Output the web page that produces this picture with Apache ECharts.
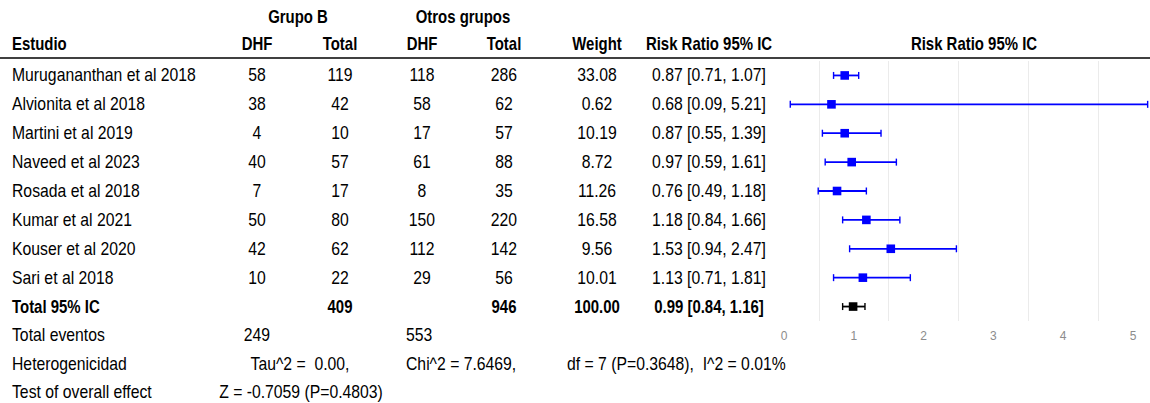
<!DOCTYPE html>
<html>
<head>
<meta charset="utf-8">
<script src="https://cdn.jsdelivr.net/npm/echarts@6/dist/echarts.min.js"></script>
<style>
  html, body { margin: 0; padding: 0; background: #ffffff; }
  #chart { width: 1150px; height: 403px; }
</style>
</head>
<body>
<div id="chart"></div>
<script>
// ---- Study data ----
const studies = [
  'Murugananthan et al 2018',
  'Alvionita et al 2018',
  'Martini et al 2019',
  'Naveed et al 2023',
  'Rosada et al 2018',
  'Kumar et al 2021',
  'Kouser et al 2020',
  'Sari et al 2018'
];
const groupBEvents = [58, 38, 4, 40, 7, 50, 42, 10];
const groupBTotal = [119, 42, 10, 57, 17, 80, 62, 22];
const otherEvents = [118, 58, 17, 61, 8, 150, 112, 29];
const otherTotal = [286, 62, 57, 88, 35, 220, 142, 56];
const weights = [33.08, 0.62, 10.19, 8.72, 11.26, 16.58, 9.56, 10.01];
const riskRatio = [0.87, 0.68, 0.87, 0.97, 0.76, 1.18, 1.53, 1.13];
const ciLower = [0.71, 0.09, 0.55, 0.59, 0.49, 0.84, 0.94, 0.71];
const ciUpper = [1.07, 5.21, 1.39, 1.61, 1.18, 1.66, 2.47, 1.81];

// ---- Pooled result ----
const pooledLabel = 'Total 95% IC';
const pooledGroupBTotal = 409;
const pooledOtherTotal = 946;
const pooledWeight = 100.00;
const pooledRR = 0.99;
const pooledLower = 0.84;
const pooledUpper = 1.16;
const eventsGroupB = 249;
const eventsOther = 553;

// ---- Summary lines ----
const heteroTau = 'Tau^2 =  0.00,';
const heteroChi = 'Chi^2 = 7.6469,';
const heteroDf = 'df = 7 (P=0.3648),  I^2 = 0.01%';
const overallZ = 'Z = -0.7059 (P=0.4803)';

// ---- Axis ticks ----
const xTickMin = 0;
const xTickMax = 5;

const FONT_FAMILY = '"Liberation Sans", Arial, "DejaVu Sans", sans-serif';
const FS = 18;
const fontReg = FS + 'px ' + FONT_FAMILY;
const fontBold = 'bold ' + FS + 'px ' + FONT_FAMILY;
// horizontal squeeze giving a narrow face
const SQUEEZE_REG = 0.875;
const SQUEEZE_BOLD = 0.83;

const rowNames = studies.concat([pooledLabel]);
const forestData = riskRatio.map((v, i) => [i, v, ciLower[i], ciUpper[i], 0])
  .concat([[studies.length, pooledRR, pooledLower, pooledUpper, 1]]);

const chart = echarts.init(document.getElementById('chart'), null, { renderer: 'svg' });

chart.setOption({
  animation: false,
  backgroundColor: '#ffffff',
  grid: { left: 784, right: 17, top: 61, height: 260, containLabel: false },
  xAxis: {
    type: 'value',
    min: xTickMin,
    max: xTickMax,
    interval: 0.5,
    axisLine: { show: false },
    axisTick: { show: false },
    axisLabel: {
      formatter: v => (Number.isInteger(v) ? String(v) : ''),
      color: '#8c8c8c',
      fontSize: 12,
      fontFamily: '"Liberation Sans", Arial, sans-serif',
      margin: 9
    },
    splitLine: {
      show: true,
      showMinLine: true,
      showMaxLine: true,
      lineStyle: { color: ['rgba(0,0,0,0)', '#ebebeb'], width: 1 }
    }
  },
  yAxis: {
    type: 'category',
    data: rowNames,
    inverse: true,
    show: false
  },
  series: [{
    type: 'custom',
    clip: false,
    data: forestData,
    encode: { x: [1, 2, 3], y: 0 },
    renderItem: function (params, api) {
      const idx = api.value(0);
      const mid = api.coord([api.value(1), idx]);
      const lo = api.coord([api.value(2), idx]);
      const hi = api.coord([api.value(3), idx]);
      const color = api.value(4) ? '#000000' : '#0000ff';
      const cap = 3.5;
      const half = 4.3;
      const y = mid[1];
      return {
        type: 'group',
        children: [
          { type: 'line', shape: { x1: lo[0], y1: y, x2: hi[0], y2: y }, style: { stroke: color, lineWidth: 1.8 } },
          { type: 'line', shape: { x1: lo[0], y1: y - cap, x2: lo[0], y2: y + cap }, style: { stroke: color, lineWidth: 1.4 } },
          { type: 'line', shape: { x1: hi[0], y1: y - cap, x2: hi[0], y2: y + cap }, style: { stroke: color, lineWidth: 1.4 } },
          { type: 'rect', shape: { x: mid[0] - half, y: y - half, width: half * 2, height: half * 2 }, style: { fill: color } }
        ]
      };
    }
  }]
});

// ---- Table text, aligned to the plot rows ----
const rowY = i => chart.convertToPixel({ yAxisIndex: 0 }, rowNames[i]);
const band = rowY(1) - rowY(0);
const lastY = rowY(rowNames.length - 1);

const col = {
  name: 12, bEv: 257, bTot: 340, oEv: 422, oTot: 504, weight: 597, rr: 709, plot: 974
};

function txt(text, x, y, align, bold) {
  return {
    type: 'text',
    silent: true,
    x: x,
    y: y,
    scaleX: bold ? SQUEEZE_BOLD : SQUEEZE_REG,
    style: {
      text: String(text),
      x: 0,
      y: 0,
      font: bold ? fontBold : fontReg,
      fill: '#000000',
      align: align,
      textAlign: align,
      verticalAlign: 'middle',
      textVerticalAlign: 'middle'
    }
  };
}

const fmtCI = (r, l, u) => r.toFixed(2) + ' [' + l.toFixed(2) + ', ' + u.toFixed(2) + ']';

const g = [];
// header rows
g.push(txt('Grupo B', 298, 17, 'center', true));
g.push(txt('Otros grupos', 463, 17, 'center', true));
const hy = 44;
g.push(txt('Estudio', col.name, hy, 'left', true));
g.push(txt('DHF', col.bEv, hy, 'center', true));
g.push(txt('Total', col.bTot, hy, 'center', true));
g.push(txt('DHF', col.oEv, hy, 'center', true));
g.push(txt('Total', col.oTot, hy, 'center', true));
g.push(txt('Weight', col.weight, hy, 'center', true));
g.push(txt('Risk Ratio 95% IC', col.rr, hy, 'center', true));
g.push(txt('Risk Ratio 95% IC', col.plot, hy, 'center', true));
g.push({
  type: 'line', silent: true,
  shape: { x1: 0, y1: 58, x2: 1150, y2: 58 },
  style: { stroke: '#000000', lineWidth: 1.6 }
});

// study rows
studies.forEach((s, i) => {
  const y = rowY(i);
  g.push(txt(s, col.name, y, 'left', false));
  g.push(txt(groupBEvents[i], col.bEv, y, 'center', false));
  g.push(txt(groupBTotal[i], col.bTot, y, 'center', false));
  g.push(txt(otherEvents[i], col.oEv, y, 'center', false));
  g.push(txt(otherTotal[i], col.oTot, y, 'center', false));
  g.push(txt(weights[i].toFixed(2), col.weight, y, 'center', false));
  g.push(txt(fmtCI(riskRatio[i], ciLower[i], ciUpper[i]), col.rr, y, 'center', false));
});

// pooled row
g.push(txt(pooledLabel, col.name, lastY, 'left', true));
g.push(txt(pooledGroupBTotal, col.bTot, lastY, 'center', true));
g.push(txt(pooledOtherTotal, col.oTot, lastY, 'center', true));
g.push(txt(pooledWeight.toFixed(2), col.weight, lastY, 'center', true));
g.push(txt(fmtCI(pooledRR, pooledLower, pooledUpper), col.rr, lastY, 'center', true));

// summary rows
const y1 = lastY + band, y2 = lastY + band * 2, y3 = lastY + band * 3 - 1;
g.push(txt('Total eventos', col.name, y1, 'left', false));
g.push(txt(eventsGroupB, col.bEv, y1, 'center', false));
g.push(txt(eventsOther, 406, y1, 'left', false));
g.push(txt('Heterogenicidad', col.name, y2, 'left', false));
g.push(txt(heteroTau, 300, y2, 'center', false));
g.push(txt(heteroChi, 406, y2, 'left', false));
g.push(txt(heteroDf, 567, y2, 'left', false));
g.push(txt('Test of overall effect', col.name, y3, 'left', false));
g.push(txt(overallZ, 301, y3, 'center', false));

chart.setOption({ graphic: { elements: g } });
</script>
</body>
</html>
